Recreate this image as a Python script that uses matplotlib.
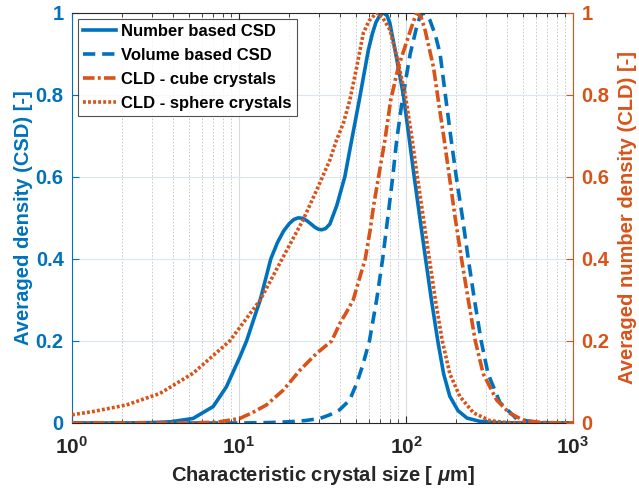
import matplotlib
matplotlib.use("Agg")
import matplotlib.pyplot as plt
from matplotlib.ticker import LogLocator, NullFormatter, FixedLocator, FixedFormatter

plt.rcParams['font.family'] = ['Liberation Sans', 'DejaVu Sans']
plt.rcParams['font.weight'] = 'bold'
plt.rcParams['mathtext.fontset'] = 'custom'
plt.rcParams['mathtext.rm'] = 'Liberation Sans:bold'
plt.rcParams['mathtext.bf'] = 'Liberation Sans:bold'
plt.rcParams['mathtext.it'] = 'Liberation Sans:italic:bold'
plt.rcParams['mathtext.default'] = 'rm'

# ---------------- data ----------------
num_x = [1, 2, 3, 3.9, 5.3, 7.0, 8.4, 10.1, 11.1, 12.7, 13.4, 15.5, 17.0, 18.5, 20.0,
         21.3, 22.6, 24.0, 25.5, 27.0, 28.5, 30.0, 31.3, 33.0, 35.0, 38.5, 43.0, 47.3,
         52.5, 59.5, 63, 66, 70, 73, 77, 80, 86, 96.4, 104, 112, 122, 131, 142, 155,
         168, 183, 205, 232, 277, 350, 500, 1000]
num_y = [0, 0, 0.001, 0.003, 0.011, 0.04, 0.088, 0.16, 0.20, 0.272, 0.30, 0.40, 0.44,
         0.468, 0.486, 0.496, 0.50, 0.499, 0.493, 0.485, 0.477, 0.472, 0.471, 0.474,
         0.485, 0.53, 0.60, 0.69, 0.787, 0.909, 0.95, 0.976, 0.995, 1.0, 0.993, 0.975,
         0.909, 0.80, 0.70, 0.60, 0.49, 0.40, 0.30, 0.20, 0.12, 0.065, 0.03, 0.012,
         0.004, 0.001, 0, 0]

vol_x = [1, 10, 15, 20, 25, 30.5, 35, 40, 46, 50.7, 55, 60.4, 66.7, 72.5, 78.3, 83.3,
         88, 95, 100, 106, 115, 121, 127, 133, 139, 150, 160, 172, 185, 200, 218, 236,
         257, 282, 310, 365, 460, 600, 1000]
vol_y = [0, 0, 0.001, 0.003, 0.006, 0.011, 0.02, 0.032, 0.056, 0.097, 0.14, 0.20,
         0.30, 0.40, 0.51, 0.60, 0.69, 0.787, 0.84, 0.90, 0.96, 0.99, 1.0, 0.995,
         0.982, 0.945, 0.90, 0.80, 0.70, 0.60, 0.50, 0.40, 0.30, 0.20, 0.12, 0.05,
         0.01, 0.001, 0]

cube_x = [1, 5, 7.4, 10.1, 12, 14.6, 18.4, 23.2, 29.2, 35.9, 40.2, 44, 48.3, 52, 57,
          61, 64, 68.5, 74.8, 81, 90, 103, 110, 116, 123, 130, 146, 156, 168, 182,
          197, 215, 236, 260, 290, 349, 417, 503, 650, 1000]
cube_y = [0, 0, 0.002, 0.011, 0.025, 0.044, 0.08, 0.129, 0.17, 0.20, 0.243, 0.27,
          0.30, 0.345, 0.40, 0.47, 0.53, 0.60, 0.69, 0.787, 0.868, 0.94, 0.975, 1.0,
          0.99, 0.958, 0.868, 0.787, 0.70, 0.60, 0.50, 0.40, 0.30, 0.20, 0.12, 0.056,
          0.024, 0.007, 0.001, 0]

sph_x = [1, 1.34, 2.12, 3.36, 5.3, 8.8, 13.4, 18.4, 24.2, 29.2, 35, 38.4, 42.1, 46.1,
         50.7, 55.5, 60, 66.7, 72, 80.2, 88, 99, 108, 117, 127, 138, 150, 165, 183,
         210, 253, 317, 400, 1000]
sph_y = [0.02, 0.028, 0.044, 0.072, 0.121, 0.20, 0.30, 0.405, 0.495, 0.568, 0.641,
         0.69, 0.73, 0.787, 0.868, 0.95, 0.98, 1.0, 0.99, 0.958, 0.893, 0.80, 0.70,
         0.60, 0.50, 0.40, 0.30, 0.20, 0.12, 0.065, 0.025, 0.006, 0.001, 0]

labels = ['Number based CSD', 'Volume based CSD', 'CLD - cube crystals', 'CLD - sphere crystals']
yticks = [0, 0.2, 0.4, 0.6, 0.8, 1]
yticklabels = ['0', '0.2', '0.4', '0.6', '0.8', '1']

BLUE = '#0072BD'
ORANGE = '#D95319'
DARK = '#262626'

fig = plt.figure(figsize=(6.39, 4.97), dpi=100)
ax = fig.add_axes([0.1127, 0.1489, 0.784, 0.8255])
ax2 = ax.twinx()

lw = 2.6
l1, = ax.plot(num_x, num_y, color=BLUE, lw=lw, linestyle='-', label=labels[0])
l2, = ax.plot(vol_x, vol_y, color=BLUE, lw=lw, linestyle=(0, (3.4, 1.9)), label=labels[1])
l3, = ax2.plot(cube_x, cube_y, color=ORANGE, lw=lw, linestyle=(0, (3.2, 0.9, 0.8, 0.9)), label=labels[2])
l4, = ax2.plot(sph_x, sph_y, color=ORANGE, lw=lw, linestyle=(0, (0.8, 0.6)), label=labels[3])

for a in (ax, ax2):
    a.set_xscale('log')
    a.set_xlim(1, 1000)
    a.set_ylim(0, 1)

ax.xaxis.set_major_locator(LogLocator(base=10, numticks=10))
ax.xaxis.set_minor_locator(LogLocator(base=10, subs=range(2, 10), numticks=20))
ax.xaxis.set_minor_formatter(NullFormatter())

# grid
ax.grid(which='major', axis='x', color='#dcdcdc', lw=0.8, linestyle='-')
ax.grid(which='minor', axis='x', color='#c4c4c4', lw=0.6, linestyle=(0, (2, 2)))
ax.grid(which='major', axis='y', color='#dce6f0', lw=0.8, linestyle='-')
ax.set_axisbelow(True)

ax.yaxis.set_major_locator(FixedLocator(yticks))
ax.yaxis.set_major_formatter(FixedFormatter(yticklabels))
ax2.yaxis.set_major_locator(FixedLocator(yticks))
ax2.yaxis.set_major_formatter(FixedFormatter(yticklabels))

fs_tick = 14.5
ax.tick_params(axis='x', which='both', direction='in', top=True, colors=DARK,
               labelsize=15, pad=9)
ax.tick_params(axis='x', which='major', length=5, width=0.8)
ax.tick_params(axis='x', which='minor', length=3, width=0.6)
ax.tick_params(axis='y', direction='in', colors=BLUE, labelsize=fs_tick, length=5, width=0.8, pad=6)
ax2.tick_params(axis='y', direction='in', colors=ORANGE, labelsize=fs_tick, length=5, width=0.8, pad=6)
ax2.tick_params(axis='x', which='both', length=0)

for s in ('top', 'bottom'):
    ax.spines[s].set_color(DARK)
    ax.spines[s].set_linewidth(0.8)
ax.spines['left'].set_color(BLUE)
ax.spines['right'].set_visible(False)
ax2.spines['right'].set_color(ORANGE)
ax2.spines['left'].set_visible(False)
ax2.spines['top'].set_visible(False)
ax2.spines['bottom'].set_visible(False)
ax.spines['left'].set_linewidth(0.8)
ax2.spines['right'].set_linewidth(0.8)

ax.set_xlabel(r'Characteristic crystal size [ $\it{\mu}$m]', fontsize=14.5, color=DARK,
              fontweight='bold', labelpad=5)
ax.set_ylabel('Averaged density (CSD) [-]', fontsize=14.5, color=BLUE, fontweight='bold', labelpad=2)
ax2.set_ylabel('Averaged number density (CLD) [-]', fontsize=14.5, color=ORANGE,
               fontweight='bold', rotation=90, labelpad=6)

leg = ax2.legend(handles=[l1, l2, l3, l4], loc='upper left', bbox_to_anchor=(0.0, 1.0),
                 fontsize=12, frameon=True, fancybox=False, edgecolor=DARK,
                 handlelength=2.0, handletextpad=0.3, labelspacing=0.55,
                 borderpad=0.3, borderaxespad=0.35)
leg.get_frame().set_linewidth(0.8)
for t in leg.get_texts():
    t.set_fontweight('bold')
    t.set_color('black')

fig.savefig('out.png', dpi=100)
